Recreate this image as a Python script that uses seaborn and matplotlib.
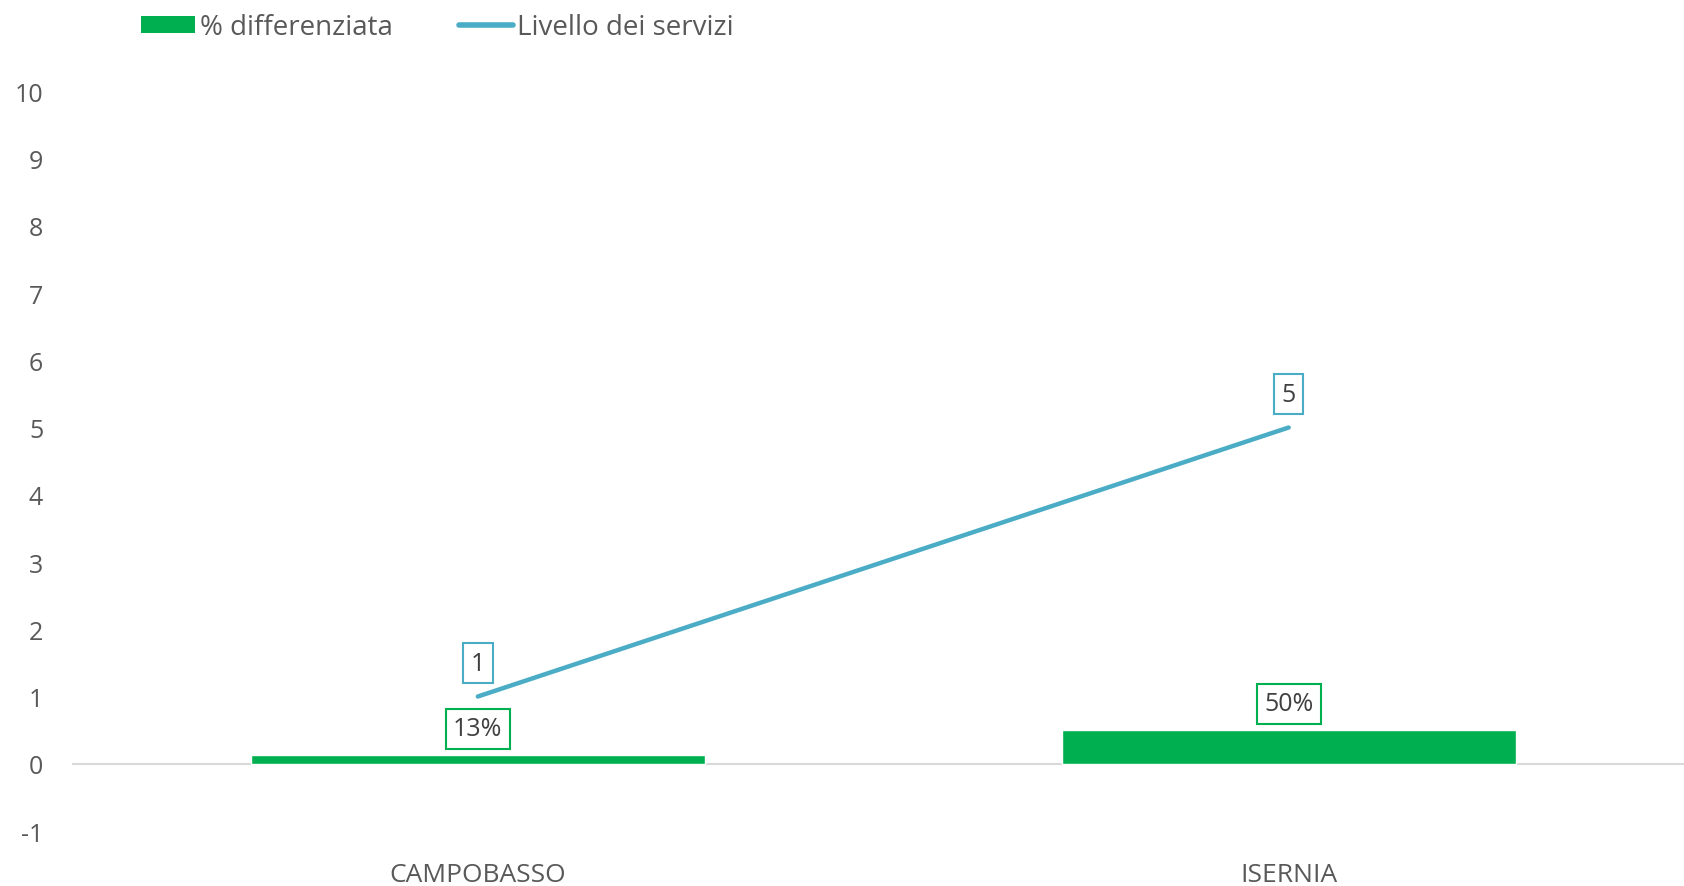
import numpy as np
import pandas as pd
import matplotlib
matplotlib.use('Agg')
import matplotlib.pyplot as plt
import seaborn as sns
from matplotlib.patches import Patch
from matplotlib.lines import Line2D

# dati
citta = ['CAMPOBASSO', 'ISERNIA']
differenziata = [0.13, 0.50]
livello_servizi = [1, 5]
yticks = list(range(-1, 11))

verde = '#00B050'
azzurro = '#4BACC6'
grigio_testo = '#595959'

sns.set_theme(style='white')
plt.rcParams['font.family'] = ['Open Sans', 'DejaVu Sans']
plt.rcParams['axes.unicode_minus'] = False

df = pd.DataFrame({'citta': citta, 'diff': differenziata, 'livello': livello_servizi})

fig = plt.figure(figsize=(16.84, 8.87), dpi=100)
ax = fig.add_axes([0.043, 0.062, 0.963, 0.834])

sns.barplot(data=df, x='citta', y='diff', color=verde, width=0.56, saturation=1, ax=ax)
sns.lineplot(data=df, x='citta', y='livello', color=azzurro, linewidth=3.2,
             solid_capstyle='round', ax=ax)

ax.set_xlim(-0.5, 1.5)
ax.set_ylim(-1, 10)
ax.set_yticks(yticks)
ax.set_xlabel('')
ax.set_ylabel('')
ax.axhline(0, color='#D9D9D9', linewidth=1.5, zorder=0.5)
for s in ax.spines.values():
    s.set_visible(False)
ax.tick_params(axis='y', labelsize=18, labelcolor=grigio_testo, length=0, pad=21)
ax.tick_params(axis='x', labelsize=19, labelcolor=grigio_testo, length=0, pad=22)

# etichette dei valori
for i, v in enumerate(differenziata):
    ax.annotate(f'{v:.0%}', (i, v), xytext=(0, 19), textcoords='offset points',
                ha='center', va='center', fontsize=18, color='#404040',
                bbox=dict(boxstyle='square,pad=0.3', fc='white', ec=verde, lw=1.5))
for i, v in enumerate(livello_servizi):
    ax.annotate(f'{v}', (i, v), xytext=(0, 24), textcoords='offset points',
                ha='center', va='center', fontsize=18, color='#404040',
                bbox=dict(boxstyle='square,pad=0.3', fc='white', ec=azzurro, lw=1.5))

handles = [Patch(facecolor=verde, edgecolor='none', label='% differenziata'),
           Line2D([0], [0], color=azzurro, lw=4, solid_capstyle='round', label='Livello dei servizi')]
fig.legend(handles=handles, loc='center left', bbox_to_anchor=(0.069, 0.968), ncol=2,
           frameon=False, fontsize=20, labelcolor=grigio_testo, handlelength=1.95,
           handletextpad=0.15, columnspacing=2.4, handleheight=0.55)

fig.savefig('out.png', dpi=100)
